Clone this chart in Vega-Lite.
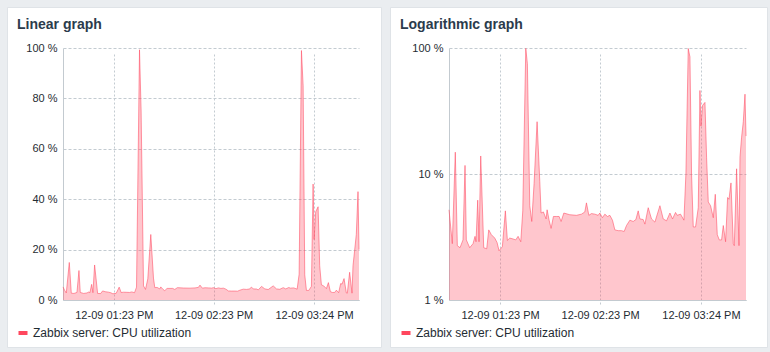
{
  "$schema": "https://vega.github.io/schema/vega-lite/v6.json",
  "background": "#eaedf0",
  "padding": {"left": 6, "top": 6, "right": 6, "bottom": 6},
  "spacing": 7,
  "config": {
    "font": "Liberation Sans",
    "view": {"fill": "white", "stroke": "#dfe3e7", "strokeWidth": 1},
    "axis": {"labelFont": "Liberation Sans", "labelFontSize": 11, "labelColor": "#1f2c33", "tickSize": 0, "domainColor": "#c3cad0", "gridColor": "#c3cbd1", "title": null}
  },
  "datasets": {
    "cpu": [
      {"t": "2023-12-09T12:53:00", "v": 5.2},
      {"t": "2023-12-09T12:54:01", "v": 3.8},
      {"t": "2023-12-09T12:54:59", "v": 2.8},
      {"t": "2023-12-09T12:56:47", "v": 14.9},
      {"t": "2023-12-09T12:57:59", "v": 2.7},
      {"t": "2023-12-09T12:59:36", "v": 2.6},
      {"t": "2023-12-09T13:01:24", "v": 3.0},
      {"t": "2023-12-09T13:02:36", "v": 11.7},
      {"t": "2023-12-09T13:03:23", "v": 3.0},
      {"t": "2023-12-09T13:05:25", "v": 2.6},
      {"t": "2023-12-09T13:07:24", "v": 2.8},
      {"t": "2023-12-09T13:08:36", "v": 3.2},
      {"t": "2023-12-09T13:09:12", "v": 2.9},
      {"t": "2023-12-09T13:10:13", "v": 6.2},
      {"t": "2023-12-09T13:11:00", "v": 2.9},
      {"t": "2023-12-09T13:12:01", "v": 13.9},
      {"t": "2023-12-09T13:13:49", "v": 2.6},
      {"t": "2023-12-09T13:15:37", "v": 2.55},
      {"t": "2023-12-09T13:16:49", "v": 3.6},
      {"t": "2023-12-09T13:18:23", "v": 3.3},
      {"t": "2023-12-09T13:20:25", "v": 3.1},
      {"t": "2023-12-09T13:21:48", "v": 2.86},
      {"t": "2023-12-09T13:23:00", "v": 2.46},
      {"t": "2023-12-09T13:24:59", "v": 2.65},
      {"t": "2023-12-09T13:26:47", "v": 5.1},
      {"t": "2023-12-09T13:27:59", "v": 2.97},
      {"t": "2023-12-09T13:29:25", "v": 3.1},
      {"t": "2023-12-09T13:31:24", "v": 3.05},
      {"t": "2023-12-09T13:33:01", "v": 3.0},
      {"t": "2023-12-09T13:34:24", "v": 3.2},
      {"t": "2023-12-09T13:36:01", "v": 2.9},
      {"t": "2023-12-09T13:37:13", "v": 5.1},
      {"t": "2023-12-09T13:39:01", "v": 99.3},
      {"t": "2023-12-09T13:39:59", "v": 75},
      {"t": "2023-12-09T13:41:25", "v": 5.6},
      {"t": "2023-12-09T13:42:37", "v": 4.2},
      {"t": "2023-12-09T13:44:00", "v": 8.4},
      {"t": "2023-12-09T13:45:48", "v": 26},
      {"t": "2023-12-09T13:47:25", "v": 8.7},
      {"t": "2023-12-09T13:48:12", "v": 4.9},
      {"t": "2023-12-09T13:49:35", "v": 5.0},
      {"t": "2023-12-09T13:51:12", "v": 4.4},
      {"t": "2023-12-09T13:51:48", "v": 5.2},
      {"t": "2023-12-09T13:53:00", "v": 4.3},
      {"t": "2023-12-09T13:54:12", "v": 3.7},
      {"t": "2023-12-09T13:55:35", "v": 4.6},
      {"t": "2023-12-09T13:57:23", "v": 4.6},
      {"t": "2023-12-09T13:59:00", "v": 4.6},
      {"t": "2023-12-09T14:00:12", "v": 4.2},
      {"t": "2023-12-09T14:01:49", "v": 4.9},
      {"t": "2023-12-09T14:05:25", "v": 4.75},
      {"t": "2023-12-09T14:09:23", "v": 4.7},
      {"t": "2023-12-09T14:12:23", "v": 4.8},
      {"t": "2023-12-09T14:14:25", "v": 5.0},
      {"t": "2023-12-09T14:15:23", "v": 5.9},
      {"t": "2023-12-09T14:16:49", "v": 4.7},
      {"t": "2023-12-09T14:18:23", "v": 4.85},
      {"t": "2023-12-09T14:20:25", "v": 4.8},
      {"t": "2023-12-09T14:22:24", "v": 4.7},
      {"t": "2023-12-09T14:23:25", "v": 4.9},
      {"t": "2023-12-09T14:24:59", "v": 4.5},
      {"t": "2023-12-09T14:26:25", "v": 4.8},
      {"t": "2023-12-09T14:27:59", "v": 4.6},
      {"t": "2023-12-09T14:29:25", "v": 4.7},
      {"t": "2023-12-09T14:30:59", "v": 4.3},
      {"t": "2023-12-09T14:32:25", "v": 3.6},
      {"t": "2023-12-09T14:34:24", "v": 3.55},
      {"t": "2023-12-09T14:36:23", "v": 3.55},
      {"t": "2023-12-09T14:38:00", "v": 3.5},
      {"t": "2023-12-09T14:39:23", "v": 3.9},
      {"t": "2023-12-09T14:41:25", "v": 4.3},
      {"t": "2023-12-09T14:43:24", "v": 4.2},
      {"t": "2023-12-09T14:45:01", "v": 4.35},
      {"t": "2023-12-09T14:46:24", "v": 5.1},
      {"t": "2023-12-09T14:47:25", "v": 4.4},
      {"t": "2023-12-09T14:49:24", "v": 4.35},
      {"t": "2023-12-09T14:50:25", "v": 4.0},
      {"t": "2023-12-09T14:52:24", "v": 5.4},
      {"t": "2023-12-09T14:54:23", "v": 4.4},
      {"t": "2023-12-09T14:56:25", "v": 4.15},
      {"t": "2023-12-09T14:59:25", "v": 5.6},
      {"t": "2023-12-09T15:01:24", "v": 4.4},
      {"t": "2023-12-09T15:03:23", "v": 4.25},
      {"t": "2023-12-09T15:05:25", "v": 4.9},
      {"t": "2023-12-09T15:06:59", "v": 4.4},
      {"t": "2023-12-09T15:08:47", "v": 4.95},
      {"t": "2023-12-09T15:09:48", "v": 4.7},
      {"t": "2023-12-09T15:11:47", "v": 4.8},
      {"t": "2023-12-09T15:13:49", "v": 4.3},
      {"t": "2023-12-09T15:15:01", "v": 10.2},
      {"t": "2023-12-09T15:16:24", "v": 99},
      {"t": "2023-12-09T15:17:25", "v": 85},
      {"t": "2023-12-09T15:18:23", "v": 10},
      {"t": "2023-12-09T15:19:24", "v": 3.8},
      {"t": "2023-12-09T15:20:47", "v": 3.8},
      {"t": "2023-12-09T15:22:24", "v": 5.4},
      {"t": "2023-12-09T15:23:25", "v": 46},
      {"t": "2023-12-09T15:24:01", "v": 24},
      {"t": "2023-12-09T15:24:59", "v": 35},
      {"t": "2023-12-09T15:26:25", "v": 37},
      {"t": "2023-12-09T15:27:23", "v": 13.6},
      {"t": "2023-12-09T15:28:24", "v": 6.0},
      {"t": "2023-12-09T15:29:47", "v": 5.6},
      {"t": "2023-12-09T15:31:24", "v": 4.5},
      {"t": "2023-12-09T15:32:36", "v": 6.9},
      {"t": "2023-12-09T15:33:48", "v": 3.3},
      {"t": "2023-12-09T15:35:00", "v": 3.0},
      {"t": "2023-12-09T15:36:23", "v": 3.0},
      {"t": "2023-12-09T15:37:24", "v": 3.9},
      {"t": "2023-12-09T15:38:47", "v": 2.9},
      {"t": "2023-12-09T15:39:59", "v": 6.5},
      {"t": "2023-12-09T15:40:49", "v": 6.3},
      {"t": "2023-12-09T15:42:01", "v": 8.5},
      {"t": "2023-12-09T15:43:24", "v": 2.8},
      {"t": "2023-12-09T15:44:00", "v": 2.7},
      {"t": "2023-12-09T15:45:23", "v": 11},
      {"t": "2023-12-09T15:46:49", "v": 2.7},
      {"t": "2023-12-09T15:47:25", "v": 13.6},
      {"t": "2023-12-09T15:48:23", "v": 19.6},
      {"t": "2023-12-09T15:49:24", "v": 26},
      {"t": "2023-12-09T15:50:25", "v": 43},
      {"t": "2023-12-09T15:51:01", "v": 20}
    ]
  },
  "hconcat": [
    {
      "width": 374,
      "height": 340,
      "data": {"name": "cpu"},
      "title": {"text": "Linear graph", "anchor": "start", "frame": "group", "orient": "top", "offset": -36, "baseline": "alphabetic", "dx": 10, "font": "Liberation Sans", "fontSize": 14, "fontWeight": "bold", "color": "#2b3b4c"},
      "mark": {"type": "area", "fillOpacity": 0.31, "line": {"strokeWidth": 1, "strokeOpacity": 0.55}},
      "encoding": {
        "x": {"field": "t", "type": "temporal",
          "scale": {"domain": [{"year": 2023, "month": 12, "date": 9, "hours": 12, "minutes": 53}, {"year": 2023, "month": 12, "date": 9, "hours": 15, "minutes": 51, "seconds": 1}], "range": [56, 352]},
          "axis": {"orient": "bottom", "offset": -47, "format": "%m-%d %I:%M %p", "labelPadding": 9,
            "values": [{"year": 2023, "month": 12, "date": 9, "hours": 13, "minutes": 23, "seconds": 36}, {"year": 2023, "month": 12, "date": 9, "hours": 14, "minutes": 23, "seconds": 36}, {"year": 2023, "month": 12, "date": 9, "hours": 15, "minutes": 24}],
            "gridDash": [2, 2], "labelFlush": false, "labelOverlap": false}},
        "y": {"field": "v", "type": "quantitative",
          "scale": {"domain": [0, 100], "range": [293, 41], "nice": false, "zero": true},
          "axis": {"orient": "left", "offset": -56, "values": [0, 20, 40, 60, 80, 100], "labelExpr": "datum.value + ' %'", "labelPadding": 6, "gridDash": [3, 2]}},
        "y2": {"datum": 0},
        "color": {"datum": "Zabbix server: CPU utilization", "type": "nominal",
          "scale": {"range": ["#ff475e"]},
          "legend": {"orient": "none", "legendX": 10, "legendY": 320, "title": null, "padding": 0, "labelFont": "Liberation Sans", "labelFontSize": 12, "labelColor": "#1f2c33", "symbolType": "M-1,-0.45H1V0.45H-1Z", "symbolSize": 81, "symbolOpacity": 1, "symbolFillColor": "#f7435a", "symbolStrokeWidth": 0, "labelOffset": 4}}
      }
    },
    {
      "width": 377,
      "height": 340,
      "data": {"name": "cpu"},
      "title": {"text": "Logarithmic graph", "anchor": "start", "frame": "group", "orient": "top", "offset": -36, "baseline": "alphabetic", "dx": 10, "font": "Liberation Sans", "fontSize": 14, "fontWeight": "bold", "color": "#2b3b4c"},
      "mark": {"type": "area", "fillOpacity": 0.31, "line": {"strokeWidth": 1, "strokeOpacity": 0.55}},
      "encoding": {
        "x": {"field": "t", "type": "temporal",
          "scale": {"domain": [{"year": 2023, "month": 12, "date": 9, "hours": 12, "minutes": 53}, {"year": 2023, "month": 12, "date": 9, "hours": 15, "minutes": 51, "seconds": 1}], "range": [59, 356]},
          "axis": {"orient": "bottom", "offset": -47, "format": "%m-%d %I:%M %p", "labelPadding": 9,
            "values": [{"year": 2023, "month": 12, "date": 9, "hours": 13, "minutes": 23, "seconds": 36}, {"year": 2023, "month": 12, "date": 9, "hours": 14, "minutes": 23, "seconds": 36}, {"year": 2023, "month": 12, "date": 9, "hours": 15, "minutes": 24}],
            "gridDash": [2, 2], "labelFlush": false, "labelOverlap": false}},
        "y": {"field": "v", "type": "quantitative",
          "scale": {"type": "log", "domain": [1, 100], "range": [293, 41], "nice": false},
          "axis": {"orient": "left", "offset": -59, "values": [1, 10, 100], "labelExpr": "datum.value + ' %'", "labelPadding": 6, "gridDash": [3, 2]}},
        "y2": {"datum": 1},
        "color": {"datum": "Zabbix server: CPU utilization", "type": "nominal",
          "scale": {"range": ["#ff475e"]},
          "legend": {"orient": "none", "legendX": 10, "legendY": 320, "title": null, "padding": 0, "labelFont": "Liberation Sans", "labelFontSize": 12, "labelColor": "#1f2c33", "symbolType": "M-1,-0.45H1V0.45H-1Z", "symbolSize": 81, "symbolOpacity": 1, "symbolFillColor": "#f7435a", "symbolStrokeWidth": 0, "labelOffset": 4}}
      }
    }
  ],
  "resolve": {"scale": {"x": "independent", "y": "independent", "color": "independent"}, "legend": {"color": "independent"}}
}
